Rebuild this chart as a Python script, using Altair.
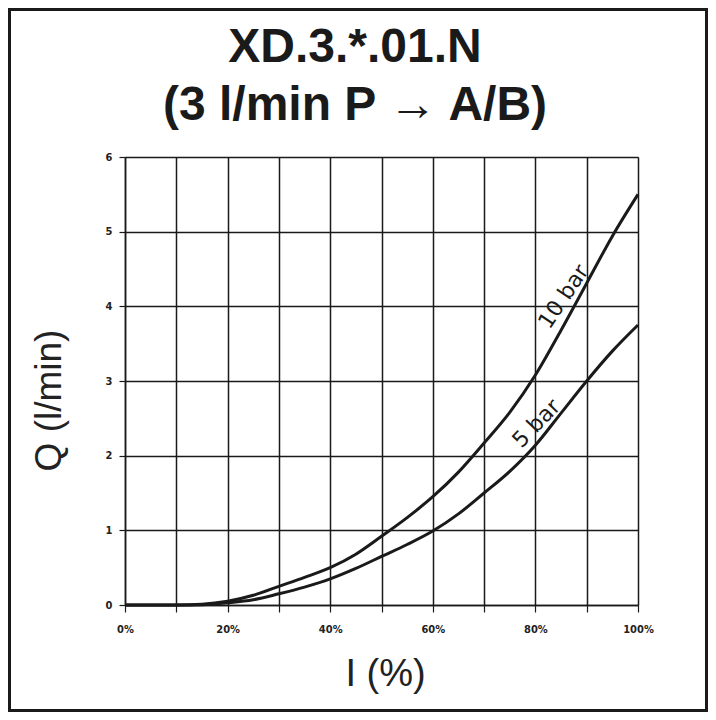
import altair as alt
import pandas as pd

# ---- data ----
current_pct = [0, 5, 10, 15, 20, 25, 30, 35, 40, 45, 50, 55, 60, 65, 70, 75, 80, 85, 90, 95, 100]
flow_10bar = [0, 0, 0, 0.01, 0.05, 0.13, 0.25, 0.37, 0.50, 0.68, 0.92, 1.17, 1.45, 1.78, 2.17, 2.58, 3.08, 3.68, 4.31, 4.94, 5.50]
flow_5bar = [0, 0, 0, 0.005, 0.03, 0.07, 0.15, 0.24, 0.35, 0.49, 0.65, 0.81, 0.99, 1.22, 1.50, 1.79, 2.14, 2.57, 3.00, 3.40, 3.75]
series_names = ["10 bar", "5 bar"]
label_x = [85.5, 80.2]
label_y = [4.13, 2.43]
label_angle = [304, 314]
x_ticks = [0, 10, 20, 30, 40, 50, 60, 70, 80, 90, 100]
y_ticks = [0, 1, 2, 3, 4, 5, 6]
title_lines = ["XD.3.*.01.N", "(3 l/min P \u2192 A/B)"]
x_title = "I (%)"
y_title = "Q (l/min)"

curves = pd.DataFrame({
    "I": current_pct + current_pct,
    "Q": flow_10bar + flow_5bar,
    "series": [series_names[0]] * len(current_pct) + [series_names[1]] * len(current_pct),
})
labels = pd.DataFrame({"I": label_x, "Q": label_y, "text": series_names, "angle": label_angle})

ink = "#1a1a1a"
tick_font = "Liberation Sans Narrow, DejaVu Sans Condensed, sans-serif"

common_axis = dict(
    grid=True,
    gridColor=ink,
    gridOpacity=1,
    gridWidth=1.5,
    domainColor=ink,
    domainWidth=1.5,
    tickColor=ink,
    tickWidth=1.2,
    labelFont=tick_font,
    labelFontSize=11,
    labelFontWeight="bold",
    labelColor="#222222",
    labelFlush=False,
    labelOverlap=False,
    titleFont="Liberation Sans",
    titleFontWeight="normal",
    titleColor="#222222",
    titleAlign="center",
    titleBaseline="alphabetic",
)

x_enc = alt.X(
    "I:Q",
    scale=alt.Scale(domain=[0, 100], nice=False),
    axis=alt.Axis(
        values=x_ticks,
        labelExpr="datum.value % 20 == 0 ? datum.value + '%' : ''",
        title=x_title,
        titleFontSize=38,
        titleX=260,
        titleY=80,
        labelPadding=11,
        tickSize=7,
        **common_axis,
    ),
)
y_enc = alt.Y(
    "Q:Q",
    scale=alt.Scale(domain=[0, 6], nice=False),
    axis=alt.Axis(
        values=y_ticks,
        format="d",
        title=y_title,
        titleFontSize=37,
        titleAngle=270,
        titleX=-65,
        titleY=243,
        labelPadding=7,
        tickSize=6,
        **common_axis,
    ),
)

lines = alt.Chart(curves).mark_line(
    color=ink, strokeWidth=3, interpolate="monotone"
).encode(x=x_enc, y=y_enc, detail="series:N")

texts = alt.Chart(labels).mark_text(
    font="DejaVu Sans", fontSize=22, color=ink, align="center", baseline="middle"
).encode(
    x=alt.X("I:Q"),
    y=alt.Y("Q:Q"),
    text="text:N",
    angle=alt.Angle("angle:Q", scale=None),
)

title = alt.Chart(alt.Data(values=[{"t": 1}])).mark_text(
    text=title_lines,
    font="Liberation Sans",
    fontSize=48,
    fontWeight="bold",
    color=ink,
    lineHeight=58,
    align="center",
    baseline="alphabetic",
).encode(x=alt.value(230), y=alt.value(-95))

border = alt.Chart(alt.Data(values=[{"b": 1}])).mark_rect(
    fillOpacity=0, stroke=ink, strokeWidth=3
).encode(
    x=alt.value(-115.5), x2=alt.value(581.5), y=alt.value(-147.5), y2=alt.value(553.5)
)

chart = alt.layer(border, title, lines, texts).properties(
    width=513,
    height=448,
    autosize=alt.AutoSizeParams(type="none"),
    padding={"left": 117, "top": 149, "right": 70, "bottom": 107},
).configure_view(
    stroke=ink, strokeWidth=1.5
).configure(background="white")

chart.save("out.html", embed_options={"renderer": "svg", "actions": False})
